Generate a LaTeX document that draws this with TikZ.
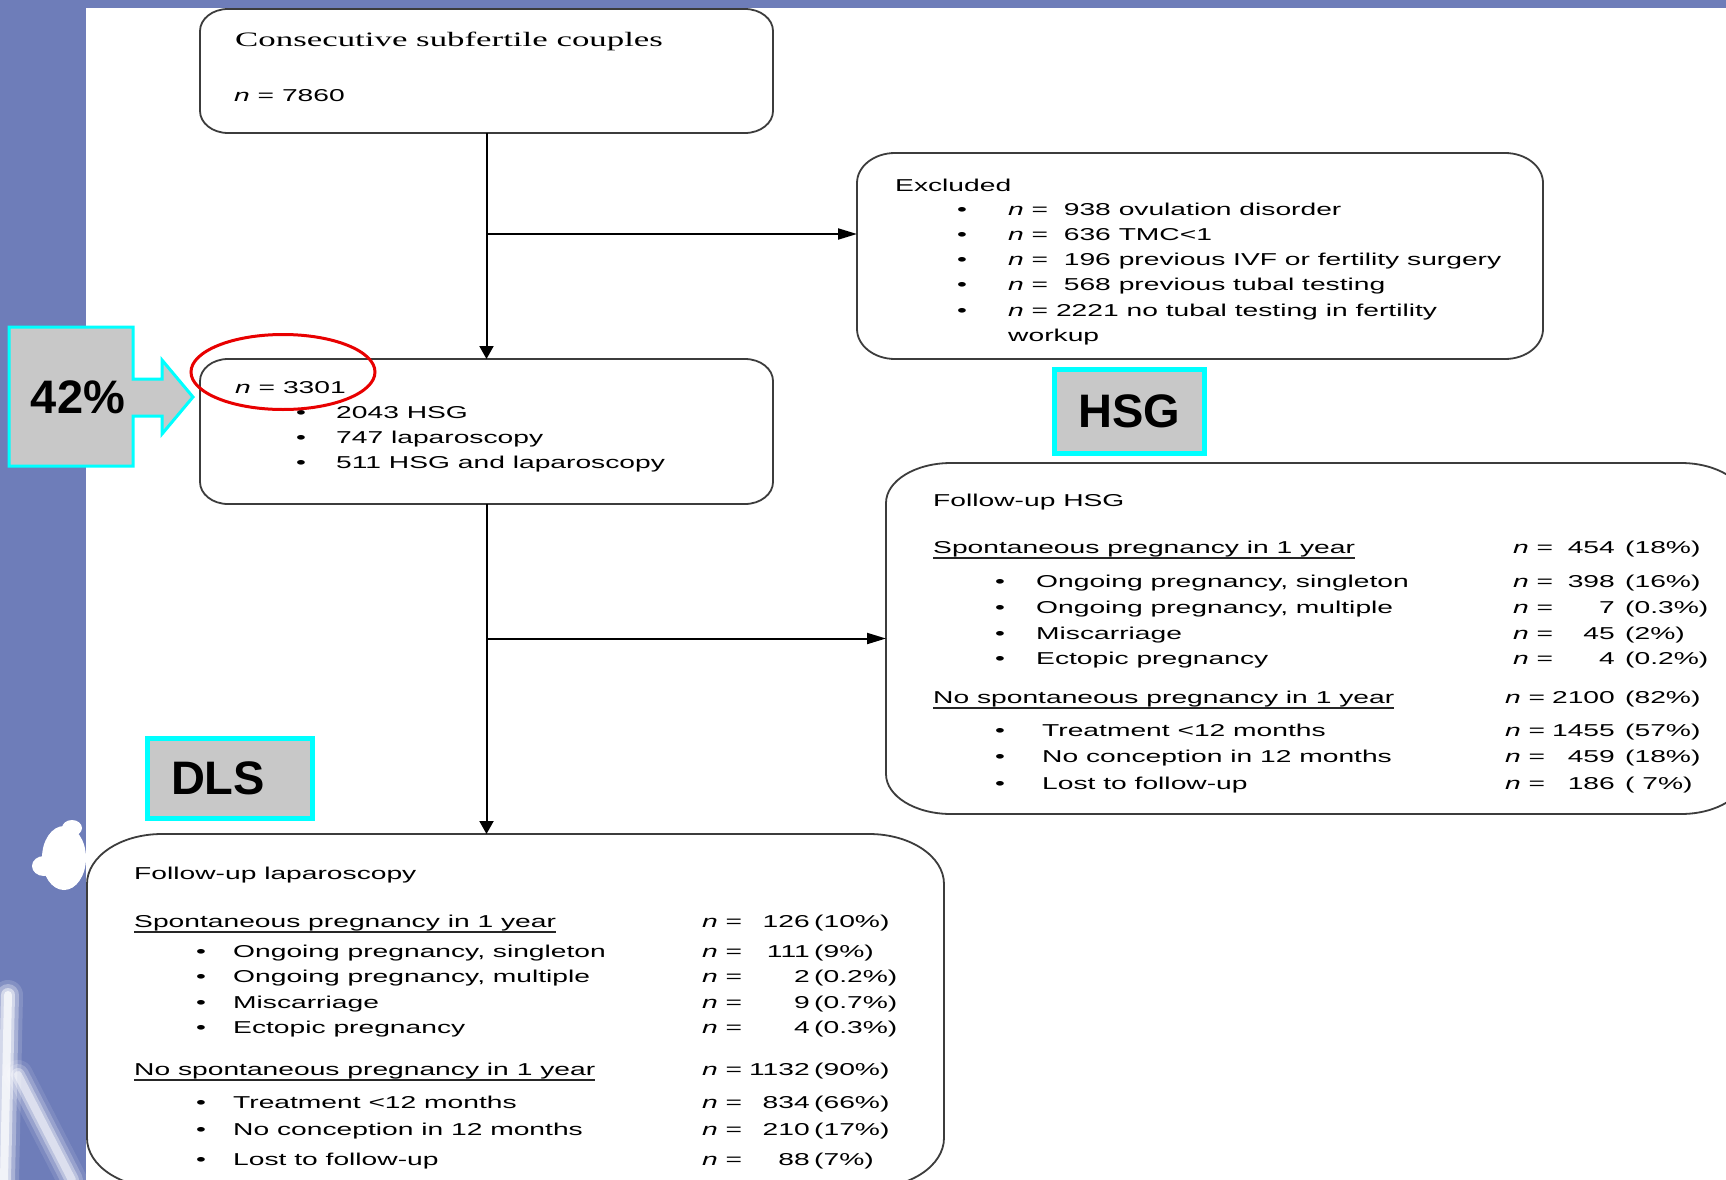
\documentclass[tikz,border=0pt]{standalone}
\usepackage{fontspec}
\usetikzlibrary{arrows.meta,calc}
\newfontfamily\bodyfont{Liberation Sans}[FakeStretch=1.64]
\newfontfamily\titlefont{Liberation Serif}[FakeStretch=1.70]
\newfontfamily\labelfont{Liberation Sans}
\definecolor{bgblue}{HTML}{6E7DB9}
\definecolor{lblgray}{HTML}{C8C8C8}
\definecolor{cyanb}{HTML}{00FFFF}
\definecolor{frame}{HTML}{3C3C3C}
\definecolor{ringred}{HTML}{E80000}
\tikzset{
 txt/.style={font=\bodyfont\fontsize{17.2}{20}\selectfont, inner sep=0pt, anchor=base west},
 numr/.style={txt, anchor=base east},
 bul/.style={txt, anchor=base},
 frm/.style={inner sep=0pt, outer sep=0pt, anchor=north west},
 boxline/.style={draw=frame, line width=1.8pt},
 varr/.style={draw=black, line width=2pt, -{Triangle[length=13pt,width=14pt]}},
 harr/.style={draw=black, line width=2pt, -{Triangle[length=19pt,width=11pt]}},
 tag/.style={fill=lblgray, draw=cyanb, line width=5pt, font=\labelfont\bfseries\fontsize{47}{50}\selectfont, inner sep=0pt, outer sep=0pt},
}
\newcommand\rboxn[3]{%
 \draw[boxline] let \p1=(#1.north west), \p2=(#1.south east) in
 ({\x1+#2pt},\y1) -- ({\x2-#2pt},\y1) arc[start angle=90,end angle=0,x radius=#2pt,y radius=#3pt]
 -- (\x2,{\y2+#3pt}) arc[start angle=0,end angle=-90,x radius=#2pt,y radius=#3pt]
 -- ({\x1+#2pt},\y2) arc[start angle=-90,end angle=-180,x radius=#2pt,y radius=#3pt]
 -- (\x1,{\y1-#3pt}) arc[start angle=180,end angle=90,x radius=#2pt,y radius=#3pt] -- cycle;}
\newcommand\bitem[5]{%
 \node[bul] (#1b) at (#2,#4) {•};
 \node[txt] (#1) at (#3,#4) {#5};}
\newcommand\ncol[7]{%
 \node[txt] (#1n) at (#3,#2) {\textit{n} =};
 \node[numr] (#1v) at (#4,#2) {#6};
 \node[txt] (#1p) at (#5,#2) {(#7)};}
\newcommand\uline[1]{\draw[line width=1.4pt, black!85] ([yshift=-5pt]#1.base west) -- ([yshift=-5pt]#1.base east);}
\begin{document}
\begin{tikzpicture}[x=1pt,y=-1pt]
\useasboundingbox (0,0) rectangle (1726,1180);
\fill[bgblue] (0,0) rectangle (1726,1180);
% watermark on the left
\fill[white] (64,858) ellipse [x radius=22pt, y radius=32pt];
\fill[white] (44,866) ellipse [x radius=12pt, y radius=10pt];
\fill[white] (72,828) ellipse [x radius=10pt, y radius=8pt];
\foreach \w/\o in {30/0.15,22/0.3,14/0.5,8/0.7}{
  \draw[white, opacity=\o, line width=\w pt, line cap=round] (8,995) -- (4,1180);
  \draw[white, opacity=\o*0.7, line width=\w pt, line cap=round] (18,1075) -- (72,1180);
}
\fill[white] (86,8) rectangle (1726,1180);

% box 1
\node[frm, minimum width=573pt, minimum height=124pt] (b1) at (200,9) {};
\rboxn{b1}{28}{22}
\node[txt, font=\titlefont\fontsize{20.5}{24}\selectfont] (t1) at (235,47) {Consecutive subfertile couples};
\node[txt] (t2) at (234,102) {\textit{n} = 7860};

% excluded
\node[frm, minimum width=686pt, minimum height=206pt] (ex) at (857,153) {};
\rboxn{ex}{38}{30}
\node[txt] (exh) at (895,191) {Excluded};
\bitem{ex1}{962}{1008}{215}{\textit{n} =\ \ 938 ovulation disorder}
\bitem{ex2}{962}{1008}{240}{\textit{n} =\ \ 636 TMC<1}
\bitem{ex3}{962}{1008}{265}{\textit{n} =\ \ 196 previous IVF or fertility surgery}
\bitem{ex4}{962}{1008}{290}{\textit{n} =\ \ 568 previous tubal testing}
\bitem{ex5}{962}{1008}{316}{\textit{n} = 2221 no tubal testing in fertility}
\node[txt] (ex6) at (1008,341) {workup};

% box 2
\node[frm, minimum width=573pt, minimum height=145pt] (b2) at (200,359) {};
\rboxn{b2}{28}{22}
\node[txt] (t3) at (235,393) {\textit{n} = 3301};
\bitem{s1}{301}{336}{418}{2043 HSG}
\bitem{s2}{301}{336}{443}{747 laparoscopy}
\bitem{s3}{301}{336}{468}{511 HSG and laparoscopy}

% follow-up HSG
\node[frm, minimum width=860pt, minimum height=351pt] (fh) at (886,463) {};
\rboxn{fh}{65}{40}
\node[txt] (fhh) at (933,506) {Follow-up HSG};
\node[txt] (fhs) at (933,553) {Spontaneous pregnancy in 1 year}; \uline{fhs}
\ncol{fhs}{553}{1513}{1615}{1625}{454}{18\%}
\bitem{fa1}{1000}{1036}{587}{Ongoing pregnancy, singleton}
\ncol{fa1}{587}{1513}{1615}{1625}{398}{16\%}
\bitem{fa2}{1000}{1036}{613}{Ongoing pregnancy, multiple}
\ncol{fa2}{613}{1513}{1615}{1625}{7}{0.3\%}
\bitem{fa3}{1000}{1036}{639}{Miscarriage}
\ncol{fa3}{639}{1513}{1615}{1625}{45}{2\%}
\bitem{fa4}{1000}{1036}{664}{Ectopic pregnancy}
\ncol{fa4}{664}{1513}{1615}{1625}{4}{0.2\%}
\node[txt] (fhn) at (933,703) {No spontaneous pregnancy in 1 year}; \uline{fhn}
\ncol{fhn}{703}{1505}{1615}{1625}{2100}{82\%}
\bitem{fb1}{1000}{1042}{736}{Treatment <12 months}
\ncol{fb1}{736}{1505}{1615}{1625}{1455}{57\%}
\bitem{fb2}{1000}{1042}{762}{No conception in 12 months}
\ncol{fb2}{762}{1505}{1615}{1625}{459}{18\%}
\bitem{fb3}{1000}{1042}{789}{Lost to follow-up}
\ncol{fb3}{789}{1505}{1615}{1625}{186}{\ 7\%}

% follow-up laparoscopy
\node[frm, minimum width=857pt, minimum height=354pt] (lap) at (87,834) {};
\rboxn{lap}{75}{50}
\node[txt] (lh) at (134,879) {Follow-up laparoscopy};
\node[txt] (ls) at (134,927) {Spontaneous pregnancy in 1 year}; \uline{ls}
\ncol{ls}{927}{702}{810}{814}{126}{10\%}
\bitem{la1}{201}{233}{957}{Ongoing pregnancy, singleton}
\ncol{la1}{957}{702}{810}{814}{111}{9\%}
\bitem{la2}{201}{233}{982}{Ongoing pregnancy, multiple}
\ncol{la2}{982}{702}{810}{814}{2}{0.2\%}
\bitem{la3}{201}{233}{1008}{Miscarriage}
\ncol{la3}{1008}{702}{810}{814}{9}{0.7\%}
\bitem{la4}{201}{233}{1033}{Ectopic pregnancy}
\ncol{la4}{1033}{702}{810}{814}{4}{0.3\%}
\node[txt] (ln) at (134,1075) {No spontaneous pregnancy in 1 year}; \uline{ln}
\ncol{ln}{1075}{702}{810}{814}{1132}{90\%}
\bitem{lb1}{201}{233}{1108}{Treatment <12 months}
\ncol{lb1}{1108}{702}{810}{814}{834}{66\%}
\bitem{lb2}{201}{233}{1135}{No conception in 12 months}
\ncol{lb2}{1135}{702}{810}{814}{210}{17\%}
\bitem{lb3}{201}{233}{1165}{Lost to follow-up}
\ncol{lb3}{1165}{702}{810}{814}{88}{7\%}

% connectors
\coordinate (ya) at (0,234);
\coordinate (yb) at (0,638.5);
\coordinate (j1) at (b1.south |- ya);
\coordinate (j2) at (b2.south |- yb);
\draw[varr] (b1.south) -- (b2.north);
\draw[harr] (j1) -- (j1 -| ex.west);
\draw[varr] (b2.south) -- (b2.south |- lap.north);
\draw[harr] (j2) -- (j2 -| fh.west);

% highlight ring
\draw[ringred, line width=3pt] (283,372) ellipse [x radius=92pt, y radius=37.5pt];

% 42% arrow
\draw[fill=lblgray, draw=cyanb, line width=3pt] (9,327) -- (133,327) -- (133,379) -- (162,379) -- (162,360) -- (193,397) -- (162,434) -- (162,416) -- (133,416) -- (133,466) -- (9,466) -- cycle;
\node[font=\labelfont\bfseries\fontsize{47}{50}\selectfont, inner sep=0pt] (p42) at (78,397) {42\%};

% tags
\node[tag, minimum width=150pt, minimum height=84pt] (hsg) at (1129.5,411.5) {HSG};
\node[tag, minimum width=165pt, minimum height=80pt] (dls) at (230,778.5) {DLS\hspace*{24pt}};
\end{tikzpicture}
\end{document}
